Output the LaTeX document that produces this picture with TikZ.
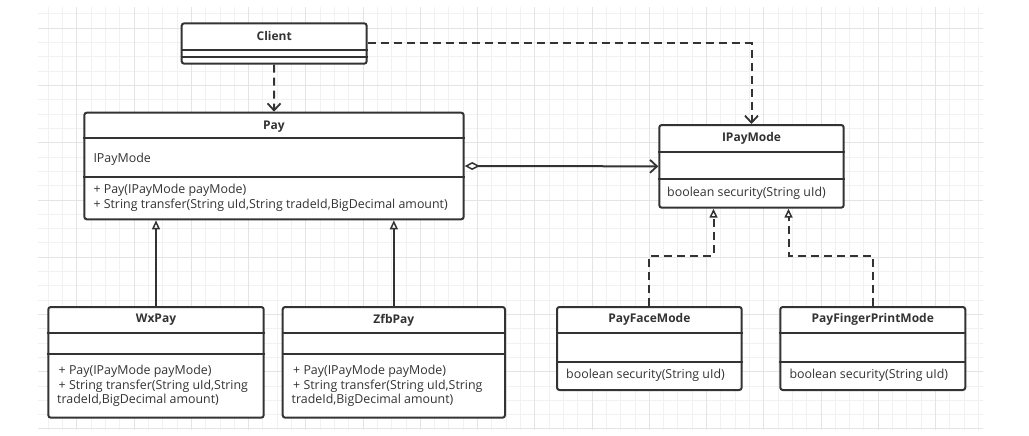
\documentclass[tikz,border=0pt]{standalone}
\usepackage{fontspec}
\setmainfont{Open Sans}
\usetikzlibrary{arrows.meta,calc}
\definecolor{ink}{HTML}{333333}
\definecolor{gridminor}{HTML}{F1F1F1}
\definecolor{gridmajor}{HTML}{E4E4E4}

\begin{document}
\begin{tikzpicture}[x=1pt,y=-1pt,
  classbox/.style={draw=ink, line width=2pt, fill=white, rounded corners=2.5pt,
    inner sep=0pt, anchor=north west},
  title/.style={font=\bfseries\fontsize{12}{14}\selectfont, text=ink, inner sep=0pt},
  member/.style={font=\fontsize{12.4}{14.7}\selectfont, text=ink, anchor=west,
    align=left, inner sep=0pt},
  sep/.style={draw=ink, line width=1.7pt},
  depend/.style={draw=ink, line width=2pt, dash pattern=on 8pt off 5pt,
    -{Straight Barb[length=7pt,width=13pt,line width=1.8pt]}},
  realize/.style={draw=ink, line width=2pt, dash pattern=on 8pt off 5pt,
    -{Triangle[open,length=9pt,width=8pt,line width=1.5pt,fill=white]}},
  inherit/.style={draw=ink, line width=2pt,
    -{Triangle[open,length=9pt,width=8pt,line width=1.5pt,fill=white]}},
  aggreg/.style={draw=ink, line width=2pt,
    {Diamond[open,length=15pt,width=8pt,line width=1.5pt,fill=white]}-{Straight Barb[length=7pt,width=13pt,line width=1.8pt]}}
]
\useasboundingbox (0,0) rectangle (1029,436);

% background grid
\foreach \k in {0,...,65}
  \draw[gridminor, line width=1pt] ({48.3+14.31*\k},7.3) -- ({48.3+14.31*\k},430);
\foreach \k in {0,...,29}
  \draw[gridminor, line width=1pt] (38,{14+14.31*\k}) -- (983,{14+14.31*\k});
\foreach \k in {2,6,...,62}
  \draw[gridmajor, line width=1pt] ({48.3+14.31*\k},7.3) -- ({48.3+14.31*\k},430);
\foreach \k in {1,5,...,29}
  \draw[gridmajor, line width=1pt] (38,{14+14.31*\k}) -- (983,{14+14.31*\k});

% class boxes
\node[classbox, minimum width=185pt, minimum height=40.4pt] (client) at (180.7,22.3) {};
\node[classbox, minimum width=379.4pt, minimum height=106.6pt] (pay) at (83.3,111.7) {};
\node[classbox, minimum width=184.4pt, minimum height=82.7pt] (ipay) at (658.3,124) {};
\node[classbox, minimum width=215.4pt, minimum height=110.7pt] (wx) at (47.3,306) {};
\node[classbox, minimum width=222.3pt, minimum height=110.7pt] (zfb) at (281.7,306) {};
\node[classbox, minimum width=184.7pt, minimum height=83pt] (face) at (556,306) {};
\node[classbox, minimum width=185pt, minimum height=83pt] (finger) at (779.3,306) {};

% compartment separators
\foreach \n/\a/\b in {client/50/56.7, pay/138.3/176.7, ipay/151.7/179.3,
    wx/333.3/354, zfb/333.3/354, face/333.3/361.7, finger/333.3/361.7} {
  \draw[sep] (\n.west |- 0,\a) -- (\n.east |- 0,\a);
  \draw[sep] (\n.west |- 0,\b) -- (\n.east |- 0,\b);
}

% class names
\node[title] (client-t) at (client.center |- 0,36) {Client};
\node[title] (pay-t) at (pay.center |- 0,126.7) {Pay};
\node[title] (ipay-t) at (ipay.center |- 0,138.3) {IPayMode};
\node[title] (wx-t) at (wx.center |- 0,320) {WxPay};
\node[title] (zfb-t) at (zfb.center |- 0,320) {ZfbPay};
\node[title] (face-t) at (face.center |- 0,319.5) {PayFaceMode};
\node[title] (finger-t) at (finger.center |- 0,319.5) {PayFingerPrintMode};

% members
\node[member] (pay-a) at (93.3,159) {IPayMode};
\node[member] (pay-m) at (93.3,197.5) {+ Pay(IPayMode payMode)\\+ String transfer(String uId,String tradeId,BigDecimal amount)};
\node[member] (ipay-m) at (667,193) {boolean security(String uId)};
\node[member] (wx-m) at (57,386) {\hspace*{1.5pt}+ Pay(IPayMode payMode)\\\hspace*{1.5pt}+ String transfer(String uId,String\\tradeId,BigDecimal amount)};
\node[member] (zfb-m) at (291.5,386) {\hspace*{1.5pt}+ Pay(IPayMode payMode)\\\hspace*{1.5pt}+ String transfer(String uId,String\\tradeId,BigDecimal amount)};
\node[member] (face-m) at (566,375.7) {boolean security(String uId)};
\node[member] (finger-m) at (789.3,375.7) {boolean security(String uId)};

% relations
\coordinate (face-in) at ($(ipay.south)+(-38,0)$);
\coordinate (finger-in) at ($(ipay.south)+(37,0)$);
\draw[depend] (client.south) -- (pay.north);
\draw[depend] (client.east) -| (ipay.north);
\draw[aggreg] (pay.east) -- (ipay.west);
\draw[inherit] (wx.north) -- (wx.north |- pay.south);
\draw[inherit] (zfb.north) -- (zfb.north |- pay.south);
\draw[realize] (face.north) -- (face.north |- 0,256) -| (face-in);
\draw[realize] (finger.north) -- (finger.north |- 0,256) -| (finger-in);
\end{tikzpicture}
\end{document}
